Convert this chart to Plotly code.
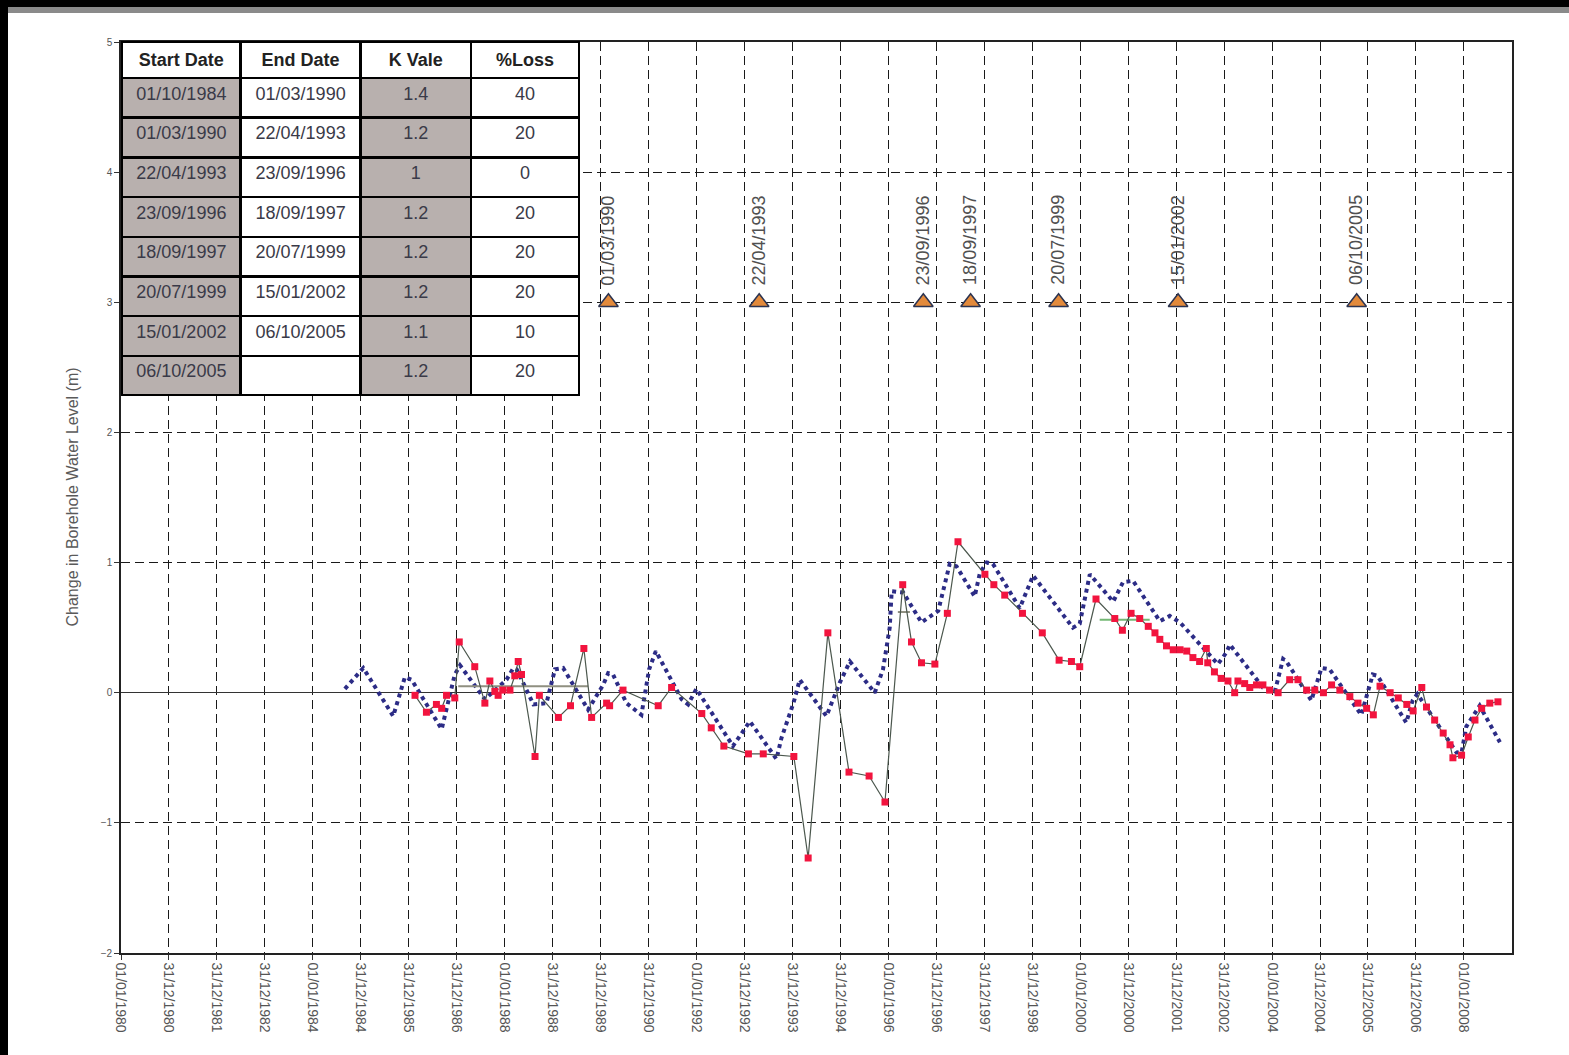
import plotly.graph_objects as go

# ---------------- data ----------------
# Observed (red squares)
obs_dates = ["1986-02-17","1986-05-15","1986-07-30","1986-09-08","1986-10-15","1986-12-17","1987-01-20","1987-05-18",
             "1987-08-03","1987-09-10","1987-10-18","1987-11-12","1987-12-17","1988-02-10","1988-03-18","1988-04-13",
             "1988-05-08","1988-08-19","1988-09-21","1989-02-13","1989-05-16","1989-08-26","1989-10-24","1990-02-15",
             "1990-03-10","1990-06-20","1991-03-15","1991-06-25","1992-02-10","1992-04-22","1992-07-27","1993-01-30",
             "1993-05-23","1994-01-11","1994-04-30","1994-09-27","1995-03-07","1995-08-07","1995-12-06","1996-04-19",
             "1996-06-25","1996-09-09","1996-12-20","1997-03-25","1997-06-14","1998-01-05","1998-03-14","1998-06-05",
             "1998-10-18","1999-03-18","1999-07-24","1999-10-26","1999-12-28","2000-04-30","2000-09-20","2000-11-17",
             "2001-01-22","2001-03-29","2001-06-02","2001-07-23","2001-08-29","2001-10-19","2001-12-09","2002-01-30",
             "2002-03-22","2002-05-08","2002-06-28","2002-08-18","2002-08-29","2002-10-19","2002-12-09","2003-01-30",
             "2003-03-22","2003-04-16","2003-06-06","2003-07-15","2003-09-04","2003-10-23","2003-12-13","2004-02-16",
             "2004-05-14","2004-07-16","2004-09-20","2004-11-21","2005-01-26","2005-03-29","2005-05-31","2005-08-15",
             "2005-10-16","2005-12-21","2006-02-10","2006-04-02","2006-06-18","2006-08-19","2006-10-23","2006-12-10",
             "2007-02-14","2007-03-22","2007-05-23","2007-07-27","2007-09-17","2007-10-09","2007-12-14","2008-02-03",
             "2008-03-25","2008-05-15","2008-07-16","2008-09-16"]
obs_values = [-0.02,-0.15,-0.09,-0.12,-0.02,-0.04,0.39,0.20,
              -0.08,0.09,0.01,-0.02,0.02,0.02,0.13,0.24,
              0.14,-0.49,-0.02,-0.19,-0.10,0.34,-0.19,-0.08,
              -0.10,0.02,-0.10,0.04,-0.16,-0.27,-0.41,-0.47,
              -0.47,-0.49,-1.27,0.46,-0.61,-0.64,-0.84,0.83,
              0.39,0.23,0.22,0.61,1.16,0.91,0.83,0.75,
              0.61,0.46,0.25,0.24,0.20,0.72,0.57,0.48,
              0.61,0.57,0.51,0.46,0.41,0.36,0.33,0.33,
              0.32,0.27,0.24,0.34,0.23,0.16,0.11,0.09,
              0.00,0.09,0.07,0.04,0.06,0.06,0.02,0.00,
              0.10,0.10,0.02,0.02,0.00,0.06,0.02,-0.03,
              -0.08,-0.12,-0.17,0.05,0.00,-0.04,-0.09,-0.14,
              0.04,-0.11,-0.21,-0.31,-0.40,-0.50,-0.48,-0.34,
              -0.21,-0.12,-0.08,-0.07]

# Modelled (blue dotted)
model_dates = ["1984-09-01","1985-01-19","1985-09-04","1985-12-02","1986-01-22","1986-09-08","1986-12-17","1987-01-26",
               "1987-08-03","1988-01-15","1988-03-07","1988-04-01","1988-08-07","1988-11-14","1989-01-18","1989-03-21",
               "1989-09-27","1990-01-20","1990-02-27","1990-04-05","1990-07-16","1990-11-07","1991-01-05","1991-02-25",
               "1991-09-09","1991-10-29","1991-12-31","1992-10-04","1993-02-10","1993-09-01","1993-10-08","1994-01-08",
               "1994-02-25","1994-09-16","1994-12-28","1995-03-14","1995-09-19","1995-11-21","1996-01-11","1996-01-26",
               "1996-04-23","1996-09-09","1997-01-15","1997-04-12","1997-06-03","1997-10-19","1997-11-28","1998-01-19",
               "1998-03-07","1998-09-27","1999-01-07","1999-11-06","1999-12-28","2000-03-14","2000-09-08","2000-11-22",
               "2001-02-06","2001-08-29","2001-11-13","2002-01-30","2002-11-14","2003-01-19","2003-02-13","2003-10-23",
               "2004-01-22","2004-03-25","2004-04-19","2004-10-26","2005-01-11","2005-03-14","2005-11-10","2006-02-06",
               "2006-03-14","2006-10-19","2006-12-06","2007-01-11","2007-11-06","2007-12-14","2008-01-19","2008-04-30",
               "2008-10-01"]
model_values = [0.03,0.19,-0.18,0.12,0.10,-0.28,0.14,0.21,
                -0.05,0.10,0.19,0.18,-0.09,-0.08,0.18,0.19,
                -0.13,0.06,0.15,0.14,-0.08,-0.17,0.18,0.32,
                -0.05,-0.09,0.03,-0.41,-0.22,-0.51,-0.35,-0.08,
                0.10,-0.18,0.08,0.24,0.00,0.18,0.50,0.78,
                0.77,0.54,0.63,0.99,0.97,0.74,0.92,1.00,
                0.99,0.65,0.90,0.50,0.53,0.91,0.70,0.85,
                0.86,0.55,0.59,0.54,0.22,0.31,0.37,0.04,
                0.01,0.26,0.24,-0.06,0.19,0.18,-0.17,0.14,
                0.13,-0.23,-0.06,-0.01,-0.46,-0.46,-0.26,-0.10,
                -0.38]

# Period mean lines
mean_gray_dates = ["1987-01-12", "1989-09-27", None, "1996-03-13", "1996-06-13"]
mean_gray_values = [0.05, 0.05, None, 0.62, 0.62]
mean_green_dates = ["2000-05-28", "2001-06-13"]
mean_green_values = [0.56, 0.56]

# K-value change markers
change_dates = ["1990-03-01","1993-04-22","1996-09-23","1997-09-18","1999-07-20","2002-01-15","2005-10-06"]
change_labels = ["01/03/1990","22/04/1993","23/09/1996","18/09/1997","20/07/1999","15/01/2002","06/10/2005"]
change_level = [3, 3, 3, 3, 3, 3, 3]

# Table
table_headers = ["Start Date", "End Date", "K Vale", "%Loss"]
start_dates = ["01/10/1984","01/03/1990","22/04/1993","23/09/1996","18/09/1997","20/07/1999","15/01/2002","06/10/2005"]
end_dates = ["01/03/1990","22/04/1993","23/09/1996","18/09/1997","20/07/1999","15/01/2002","06/10/2005",""]
k_values = ["1.4","1.2","1","1.2","1.2","1.2","1.1","1.2"]
pct_loss = ["40","20","0","20","20","20","10","20"]

# Axis ticks
x_tick_dates = ["1980-01-01","1980-12-31","1981-12-31","1982-12-31","1984-01-01","1984-12-31","1985-12-31","1986-12-31",
                "1988-01-01","1988-12-31","1989-12-31","1990-12-31","1992-01-01","1992-12-31","1993-12-31","1994-12-31",
                "1996-01-01","1996-12-31","1997-12-31","1998-12-31","2000-01-01","2000-12-31","2001-12-31","2002-12-31",
                "2004-01-01","2004-12-31","2005-12-31","2006-12-31","2008-01-01"]
x_tick_labels = ["01/01/1980","31/12/1980","31/12/1981","31/12/1982","01/01/1984","31/12/1984","31/12/1985","31/12/1986",
                 "01/01/1988","31/12/1988","31/12/1989","31/12/1990","01/01/1992","31/12/1992","31/12/1993","31/12/1994",
                 "01/01/1996","31/12/1996","31/12/1997","31/12/1998","01/01/2000","31/12/2000","31/12/2001","31/12/2002",
                 "01/01/2004","31/12/2004","31/12/2005","31/12/2006","01/01/2008"]
y_ticks = [-2, -1, 0, 1, 2, 3, 4, 5]
y_title = "Change in Borehole Water Level (m)"

# ---------------- figure ----------------
FONT = "Liberation Sans, Arial, sans-serif"
W, H = 1569, 1055
L, R, T, B = 121, 57, 42, 102
plot_w = W - L - R
plot_h = H - T - B


def px_x(p):  # page pixel -> paper x
    return (p - L) / plot_w


def px_y(p):  # page pixel -> paper y
    return (H - B - p) / plot_h


fig = go.Figure()

fig.add_trace(go.Scatter(
    x=model_dates, y=model_values, mode="lines",
    line=dict(color="#2c2c86", width=4, dash="dot"),
    showlegend=False, hoverinfo="skip"))

fig.add_trace(go.Scatter(
    x=mean_gray_dates, y=mean_gray_values, mode="lines",
    line=dict(color="#8f8f80", width=2), showlegend=False, connectgaps=False))
fig.add_trace(go.Scatter(
    x=mean_green_dates, y=mean_green_values, mode="lines",
    line=dict(color="#74b874", width=2), showlegend=False))

fig.add_trace(go.Scatter(
    x=obs_dates, y=obs_values, mode="lines+markers",
    line=dict(color="#4b574d", width=1.2),
    marker=dict(symbol="square", size=7, color="#f2143e", line=dict(width=0)),
    showlegend=False))

fig.add_trace(go.Scatter(
    x=change_dates, y=change_level, mode="markers",
    marker=dict(symbol="triangle-up", size=17, color="#e38a3b",
                line=dict(color="#2b3350", width=1.5)),
    showlegend=False))

for d, lab, lv in zip(change_dates, change_labels, change_level):
    fig.add_annotation(x=d, y=lv, text=lab, textangle=-90, showarrow=False,
                       xanchor="center", yanchor="bottom", yshift=15,
                       font=dict(family=FONT, size=18, color="#505050"))

# Table
gray = "#b8b0ae"
fig.add_trace(go.Table(
    domain=dict(x=[px_x(122), px_x(580)], y=[px_y(396), 1.0]),
    columnwidth=[119, 120, 111, 108],
    header=dict(values=["<b>%s</b>" % h for h in table_headers],
                fill_color="white", line=dict(color="black", width=2.5),
                align="center", height=36,
                font=dict(family=FONT, size=18, color="#222222")),
    cells=dict(values=[start_dates, end_dates, k_values, pct_loss],
               fill_color=[[gray] * 8, ["white"] * 8, [gray] * 8, ["white"] * 8],
               line=dict(color="black", width=2.5),
               align="center", height=39.7,
               font=dict(family=FONT, size=18, color="#3a3a48")),
))

# page frame: black band left and top, thin gray band under the top one
fig.add_shape(type="rect", xref="paper", yref="paper", layer="below",
              x0=px_x(-5), x1=px_x(8), y0=px_y(H + 5), y1=px_y(-5),
              fillcolor="black", line=dict(width=0))
fig.add_shape(type="rect", xref="paper", yref="paper", layer="below",
              x0=px_x(-5), x1=px_x(W + 5), y0=px_y(7), y1=px_y(-5),
              fillcolor="black", line=dict(width=0))
fig.add_shape(type="rect", xref="paper", yref="paper", layer="below",
              x0=px_x(8), x1=px_x(W + 5), y0=px_y(13), y1=px_y(7),
              fillcolor="#8a8a8a", line=dict(width=0))

fig.add_annotation(x=px_x(72), y=0.5, xref="paper", yref="paper",
                   text=y_title, textangle=-90, showarrow=False,
                   xanchor="center", yanchor="middle",
                   font=dict(family=FONT, size=16, color="#5a5a5a"))

grid = dict(showgrid=True, gridcolor="#1a1a1a", gridwidth=1.4, griddash="9px,5px")

fig.update_xaxes(type="date", range=["1980-01-01", "2009-01-01"],
                 tickmode="array", tickvals=x_tick_dates, ticktext=x_tick_labels,
                 tickangle=90, tickfont=dict(family=FONT, size=14, color="#555555"),
                 ticks="outside", ticklen=5, tickcolor="#333",
                 showline=True, linecolor="#222", linewidth=1.6, mirror=True,
                 zeroline=False, **grid)
fig.update_yaxes(range=[-2, 5], tickmode="array", tickvals=y_ticks,
                 tickfont=dict(family=FONT, size=10, color="#555555"),
                 ticks="outside", ticklen=5, tickcolor="#333",
                 showline=True, linecolor="#222", linewidth=1.6, mirror=True,
                 zeroline=True, zerolinecolor="#333333", zerolinewidth=1.3,
                 **grid)

fig.update_layout(width=W, height=H, margin=dict(l=L, r=R, t=T, b=B),
                  paper_bgcolor="white", plot_bgcolor="white",
                  font=dict(family=FONT), showlegend=False)

fig.write_html("out.html", config={"displayModeBar": False},
               post_script="document.body.style.margin='0';document.body.style.background='black';"
                           "document.body.style.overflow='hidden';")
